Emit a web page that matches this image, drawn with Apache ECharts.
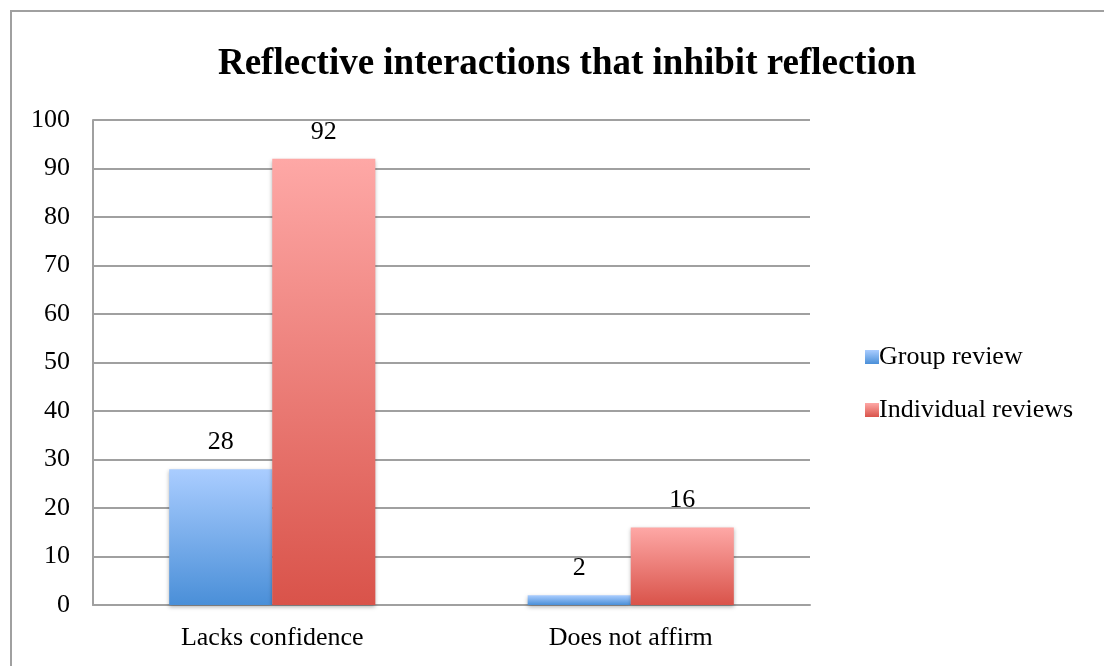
<!DOCTYPE html>
<html>
<head>
<meta charset="utf-8">
<script src="https://cdn.jsdelivr.net/npm/echarts@6/dist/echarts.min.js"></script>
<style>
  html, body { margin: 0; padding: 0; background: #fff; }
  #chart { width: 1104px; height: 666px; }
</style>
</head>
<body>
<div id="chart"></div>
<script>
const categories = ["Lacks confidence", "Does not affirm"];
const groupReview = [28, 2];
const individualReviews = [92, 16];
const yTicks = { min: 0, max: 100, interval: 10 };

const font = "'Liberation Serif', 'Times New Roman', serif";

function grad(top, bottom) {
  return new echarts.graphic.LinearGradient(0, 0, 0, 1, [
    { offset: 0, color: top },
    { offset: 1, color: bottom }
  ]);
}

const labelStyle = {
  show: true,
  position: "top",
  distance: 14,
  color: "#000",
  fontFamily: font,
  fontSize: 26
};

const option = {
  backgroundColor: "#fff",
  animation: false,
  graphic: [
    {
      type: "rect",
      shape: { x: 11, y: 11, width: 1200, height: 700 },
      style: { fill: "none", stroke: "#a0a0a0", lineWidth: 2 },
      silent: true
    }
  ],
  title: {
    text: "Reflective interactions that inhibit reflection",
    left: 562,
    textAlign: "center",
    top: 41,
    textStyle: {
      fontFamily: font,
      fontWeight: "bold",
      fontSize: 37,
      color: "#000"
    }
  },
  legend: {
    orient: "vertical",
    left: 860,
    top: 339,
    itemWidth: 14,
    itemHeight: 14,
    itemGap: 27,
    icon: "rect",
    textStyle: { fontFamily: font, fontSize: 26, color: "#000", padding: [0, 0, 0, -5] },
    data: ["Group review", "Individual reviews"]
  },
  grid: { left: 93, right: 294, top: 120, bottom: 61 },
  xAxis: {
    type: "category",
    data: categories,
    axisLine: { show: true, lineStyle: { color: "#a0a0a0", width: 2 } },
    axisTick: { show: false },
    axisLabel: { fontFamily: font, fontSize: 26, color: "#000", margin: 20 }
  },
  yAxis: {
    type: "value",
    min: yTicks.min,
    max: yTicks.max,
    interval: yTicks.interval,
    axisLine: { show: true, lineStyle: { color: "#a0a0a0", width: 2 } },
    axisTick: { show: false },
    splitLine: { lineStyle: { color: "#a0a0a0", width: 2 } },
    axisLabel: { fontFamily: font, fontSize: 26, color: "#000", margin: 23 }
  },
  series: [
    {
      name: "Group review",
      type: "bar",
      data: groupReview,
      barGap: "0%",
      barCategoryGap: "42.5%",
      itemStyle: {
        color: grad("#aacdff", "#4a8fd8"),
        shadowColor: "rgba(0,0,0,0.3)",
        shadowBlur: 4,
        shadowOffsetY: 2
      },
      label: labelStyle
    },
    {
      name: "Individual reviews",
      type: "bar",
      data: individualReviews,
      barGap: "0%",
      barCategoryGap: "42.5%",
      itemStyle: {
        color: grad("#fea8a6", "#d9534a"),
        shadowColor: "rgba(0,0,0,0.3)",
        shadowBlur: 4,
        shadowOffsetY: 2
      },
      label: labelStyle
    }
  ]
};

const myChart = echarts.init(document.getElementById("chart"));
myChart.setOption(option);
</script>
</body>
</html>
